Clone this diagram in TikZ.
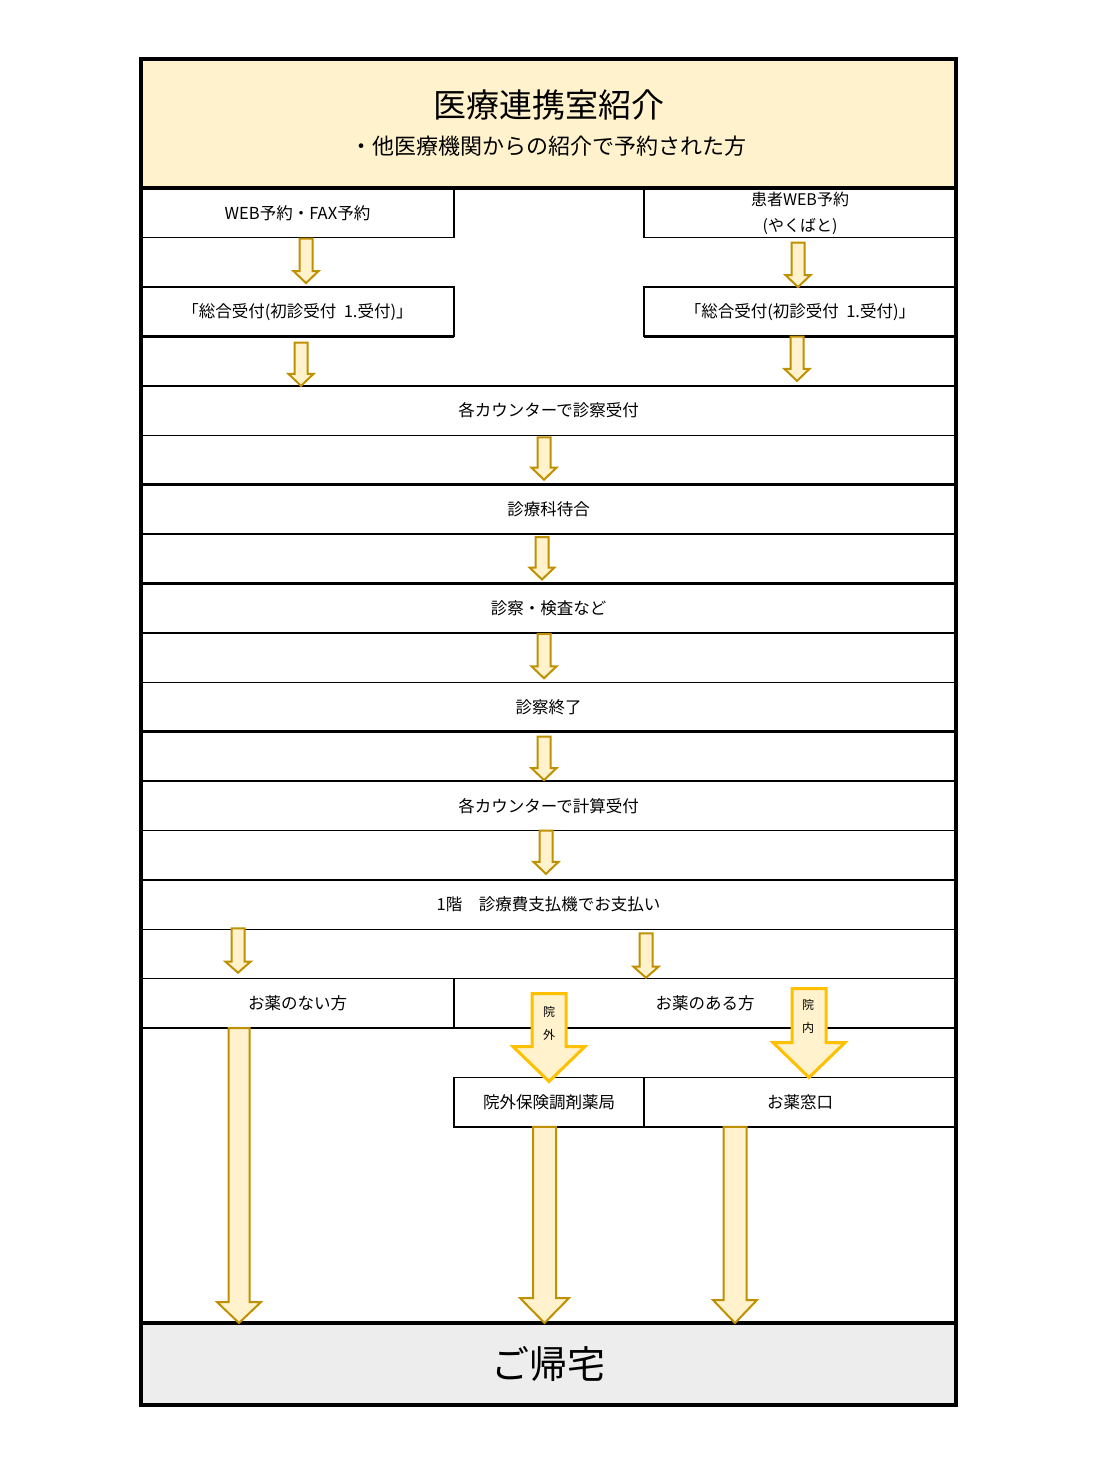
\documentclass[tikz,border=0pt]{standalone}
\usepackage{fontspec}
\setmainfont{Noto Sans CJK JP}
\usetikzlibrary{positioning, calc}
\definecolor{hdrfill}{HTML}{FFF2CC}
\definecolor{arrowfill}{HTML}{FFF2CC}
\definecolor{arrowline}{HTML}{BF9000}
\definecolor{bigline}{HTML}{FFC000}
\definecolor{footfill}{HTML}{EDEDED}
\tikzset{
    base/.style = {
        draw=black, rectangle, inner sep=0pt, outer sep=0pt, text centered,
        font=\fontsize{16.5}{20}\selectfont
    },
    % Table cells
    cell/.style     = {base, line width=1.3pt, minimum height=49.4pt},
    halfcell/.style = {cell, minimum width=313pt},
    fullcell/.style = {cell, minimum width=815pt},
    header/.style   = {base, line width=3.5pt, fill=hdrfill, minimum width=815pt, minimum height=129pt},
    footer/.style   = {base, line width=3.5pt, fill=footfill, minimum width=815pt, minimum height=82pt,
                       font=\fontsize{38}{40}\selectfont},
    frame/.style    = {draw=black, line width=3.5pt},
    thickrule/.style = {draw=black, line width=2.6pt},
    % Block arrows and annotations
    smallarrow/.style = {draw=arrowline, fill=arrowfill, line width=2pt},
    longarrow/.style  = {draw=arrowline, fill=arrowfill, line width=2pt},
    bigarrow/.style   = {draw=bigline, fill=arrowfill, line width=3pt},
    annotation/.style = {font=\fontsize{12}{23}\selectfont, align=center}
}
% style, x, from, to, shaft half width, head half width, head length
\newcommand{\blkarrow}[7]{%
    \path[#1] let \p1=(#3), \p2=(#4) in
        (#2pt-#5pt,\y1) -- (#2pt+#5pt,\y1) -- (#2pt+#5pt,\y2+#7pt)
        -- (#2pt+#6pt,\y2+#7pt) -- (#2pt,\y2) -- (#2pt-#6pt,\y2+#7pt)
        -- (#2pt-#5pt,\y2+#7pt) -- cycle;
}

\begin{document}
\begin{tikzpicture}[x=1pt, y=-1pt]
    \useasboundingbox (0,0) rectangle (1098,1458);

    \node (hdr) [header] at (548.5,123.5) {};
    \node (title) [font=\fontsize{33}{36}\selectfont] at (548.5,105) {医療連携室紹介};
    \node (subtitle) [font=\fontsize{22}{25}\selectfont] at (548.5,146) {・他医療機関からの紹介で予約された方};

    \node (web) [halfcell] at (297.5,213) {WEB予約・FAX予約};
    \node (yakubato) [halfcell, minimum width=312pt, align=center, font=\fontsize{16}{26}\selectfont]
        at (800,213) {患者WEB予約\\(やくばと)};
    \node (sogoL) [halfcell, below=49.4pt of web] {「総合受付(初診受付\ \ 1.受付)」};
    \node (sogoR) [halfcell, minimum width=312pt, below=49.4pt of yakubato] {「総合受付(初診受付\ \ 1.受付)」};

    \node (counter1) [fullcell] at (548.5,410.6) {各カウンターで診察受付};
    \node (machiai) [fullcell, below=49.4pt of counter1] {診療科待合};
    \node (shinsatsu) [fullcell, below=49.4pt of machiai] {診察・検査など};
    \node (owari) [fullcell, below=49.4pt of shinsatsu] {診察終了};
    \node (keisan) [fullcell, below=49.4pt of owari] {各カウンターで計算受付};
    \node (shiharai) [fullcell, below=49.4pt of keisan] {1階　診療費支払機でお支払い};

    \node (nashi) [halfcell] at (297.5,1003.4) {お薬のない方};
    \node (ari) [cell, minimum width=502pt, right=0pt of nashi] {お薬のある方};
    \node (ingai) [cell, minimum width=190pt, below=49.4pt of ari.south west, anchor=north west] {院外保険調剤薬局};
    \node (madoguchi) [cell, minimum width=312pt, right=0pt of ingai] {お薬窓口};

    \node (home) [footer] at (548.5,1364) {ご帰宅};

    % heavier borders
    \draw[thickrule] (sogoL.south west) -- (sogoL.south east);
    \draw[thickrule] (sogoR.south west) -- (sogoR.south east);
    \draw[thickrule] (machiai.north west) -- (machiai.north east);
    \draw[thickrule] (shinsatsu.north west) -- (shinsatsu.north east);
    \draw[thickrule] (owari.south west) -- (owari.south east);
    \draw[thickrule] (shiharai.north west) -- (shiharai.north east);
    \draw[thickrule] (nashi.south west) -- (ari.south east);
    \draw[thickrule] (ingai.south west) -- (madoguchi.south east);

    % arrows between rows
    \blkarrow{smallarrow}{306}{$(web.south)+(0,1)$}{$(sogoL.north)+(0,-4)$}{6.5}{12.5}{12}
    \blkarrow{smallarrow}{798}{$(yakubato.south)+(0,5)$}{sogoR.north}{6.5}{12.5}{12}
    \blkarrow{smallarrow}{301}{$(sogoL.south)+(0,6)$}{counter1.north}{6.5}{12.5}{12}
    \blkarrow{smallarrow}{797}{sogoR.south}{$(counter1.north)+(0,-5)$}{6.5}{12.5}{12}
    \blkarrow{smallarrow}{544}{$(counter1.south)+(0,2)$}{$(machiai.north)+(0,-5)$}{6.5}{12.5}{12}
    \blkarrow{smallarrow}{542}{$(machiai.south)+(0,3)$}{$(shinsatsu.north)+(0,-4)$}{6.5}{12.5}{12}
    \blkarrow{smallarrow}{544}{$(shinsatsu.south)+(0,1)$}{$(owari.north)+(0,-4)$}{6.5}{12.5}{12}
    \blkarrow{smallarrow}{544}{$(owari.south)+(0,5)$}{$(keisan.north)+(0,-1)$}{6.5}{12.5}{12}
    \blkarrow{smallarrow}{546}{keisan.south}{$(shiharai.north)+(0,-6)$}{6.5}{12.5}{12}
    \blkarrow{smallarrow}{238}{$(shiharai.south)+(0,-1)$}{$(nashi.north)+(0,-6)$}{6.5}{12.5}{11}
    \blkarrow{smallarrow}{646}{$(shiharai.south)+(0,4)$}{$(ari.north)+(0,-1)$}{6.5}{12.5}{11}

    % out / in hospital
    \blkarrow{bigarrow}{549}{$(ari.north)+(0,15)$}{$(ingai.north)+(0,4)$}{17}{36}{35}
    \blkarrow{bigarrow}{809}{$(ari.north)+(0,10)$}{madoguchi.north}{17}{36}{35}
    \node (lblout) [annotation] at (549,1023) {院\\外};
    \node (lblin) [annotation] at (808,1016) {院\\内};

    % to home
    \blkarrow{longarrow}{239}{nashi.south}{home.north}{10.5}{22}{21}
    \blkarrow{longarrow}{544.5}{ingai.south}{home.north}{11.5}{24.5}{25}
    \blkarrow{longarrow}{735}{madoguchi.south}{home.north}{11.5}{22}{23}

    \draw[frame] (hdr.north west) rectangle (home.south east);
\end{tikzpicture}
\end{document}
